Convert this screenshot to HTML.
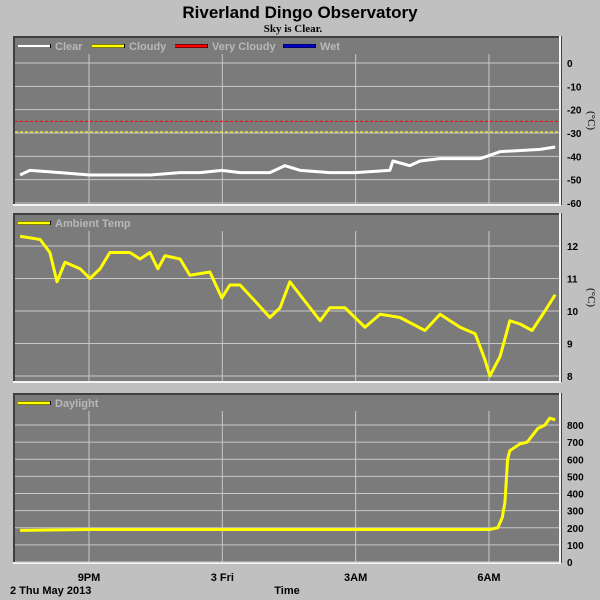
<!DOCTYPE html>
<html><head><meta charset="utf-8"><style>
body{margin:0;background:#c0c0c0;}
svg{display:block;font-family:"Liberation Sans",sans-serif;}
</style></head><body>
<svg id="c" width="600" height="600"></svg>
<script>
const xTicksH=[21,24,27,30];
const xTickLabels=["9PM","3 Fri","3AM","6AM"];
const clearT=[19.45,19.67,20.35,21.02,21.7,22.37,23.05,23.5,23.99,24.4,25.07,25.41,25.75,26.42,26.99,27.77,27.84,28.22,28.45,28.9,29.8,30.25,31.15,31.49];
const clearV=[-48,-46,-47,-48,-48,-48,-47,-47,-46,-47,-47,-44,-46,-47,-47,-46,-42,-44,-42,-41,-41,-38,-37,-36];
const ambT=[19.45,19.9,20.12,20.28,20.46,20.8,21.02,21.25,21.47,21.92,22.15,22.37,22.55,22.71,23.05,23.27,23.72,23.99,24.17,24.4,24.74,25.07,25.3,25.52,25.86,26.2,26.42,26.76,27.21,27.55,28.0,28.56,28.9,29.35,29.69,29.91,30.02,30.25,30.47,30.7,30.97,31.26,31.49];
const ambV=[12.3,12.2,11.8,10.9,11.5,11.3,11.0,11.3,11.8,11.8,11.6,11.8,11.3,11.7,11.6,11.1,11.2,10.4,10.8,10.8,10.3,9.8,10.1,10.9,10.3,9.7,10.1,10.1,9.5,9.9,9.8,9.4,9.9,9.5,9.3,8.5,8.0,8.6,9.7,9.6,9.4,10.0,10.5];
const dayT=[19.45,21.02,23.0,26.0,30.02,30.2,30.3,30.36,30.42,30.47,30.7,30.86,31.1,31.26,31.37,31.49];
const dayV=[185,190,190,190,190,200,260,350,600,650,690,700,780,800,840,830];
const sTicks=[0,-10,-20,-30,-40,-50,-60];
const aTicks=[12,11,10,9,8];
const dTicks=[800,700,600,500,400,300,200,100,0];
const NS="http://www.w3.org/2000/svg";
const svg=document.getElementById('c');
function el(t,a,p){const e=document.createElementNS(NS,t);for(const k in a)e.setAttribute(k,a[k]);(p||svg).appendChild(e);return e;}
const xS=h=>89+(h-21)*44.44;
function panel(name,top,bot,ymin,ymax,y0,y1,ticks,T,V,col,legends,thresh,unit){
  const g=el('g',{});
  el('rect',{x:13,y:top,width:549,height:bot-top,fill:'#404040'},g);
  el('rect',{x:15,y:top+2,width:545,height:bot-top-3,fill:'#7b7b7b'},g);
  el('line',{x1:560,y1:top,x2:560,y2:bot,stroke:'#f4f4f4','stroke-width':2},g);
  el('line',{x1:13,y1:bot,x2:561,y2:bot,stroke:'#f4f4f4','stroke-width':2},g);
  const yS=v=>y0+(v-ymax)*(y1-y0)/(ymin-ymax);
  ticks.forEach(v=>{const y=yS(v);
    const l=el('line',{x1:15,y1:y,x2:559,y2:y,stroke:'#c8c8c8','stroke-width':1},g);
    
    const t=el('text',{x:567,y:y+4,'font-size':10,'font-weight':'bold',fill:'#000'},g);t.textContent=v;
    });
  xTicksH.forEach(h=>{el('line',{x1:xS(h),y1:top+18,x2:xS(h),y2:bot-1,stroke:'#c8c8c8','stroke-width':1},g);});
  if(thresh)thresh.forEach(th=>el('line',{x1:15,y1:yS(th[0]),x2:559,y2:yS(th[0]),stroke:th[1],'stroke-dasharray':'3,2'},g));
  const p=el('polyline',{points:T.map((h,i)=>xS(h)+','+yS(V[i])).join(' '),fill:'none',stroke:col,'stroke-width':3,'stroke-linejoin':'round'},g);
  
  let lx=18;
  legends.forEach(L=>{
    const lg=el('g',{},g);
    el('line',{x1:lx,y1:top+10,x2:lx+33,y2:top+10,stroke:'#000','stroke-width':4},lg);
    el('line',{x1:lx,y1:top+10,x2:lx+32,y2:top+10,stroke:L[1],'stroke-width':3},lg);
    const t=el('text',{x:lx+37,y:top+14,'font-size':11,'font-weight':'bold',fill:'#b8b8b8'},lg);t.textContent=L[0];
    lx+=L[2];});
  if(unit){const u=el('text',{x:0,y:0,'font-size':11,'font-family':'Liberation Serif',transform:`translate(588,${(top+bot)/2}) rotate(90)`,'text-anchor':'middle'},g);u.textContent='(°C)';
    }
}
const tt=el('text',{x:300,y:18,'font-size':17,'font-weight':'bold','text-anchor':'middle'});tt.textContent='Riverland Dingo Observatory';

const st=el('text',{x:293,y:32,'font-size':11,'font-weight':'bold','font-family':'Liberation Serif','text-anchor':'middle'});st.textContent='Sky is Clear.';

panel('sky-temp-panel',36,205,-60,0,63,203,sTicks,clearT,clearV,'#fff',[['Clear','#fff',74],['Cloudy','#ff0',83],['Very Cloudy','#f00',108],['Wet','#00c',60]],[[-25,'#f00'],[-29.5,'#ff0']],true);
panel('ambient-temp-panel',213,382,8,12,246,376,aTicks,ambT,ambV,'#ff0',[['Ambient Temp','#ff0',100]],null,true);
panel('daylight-panel',393,563,0,800,425,562,dTicks,dayT,dayV,'#ff0',[['Daylight','#ff0',100]],null,false);
xTicksH.forEach((h,i)=>{const t=el('text',{x:xS(h),y:581,'font-size':11,'font-weight':'bold','text-anchor':'middle'});t.textContent=xTickLabels[i];
  });
const d=el('text',{x:10,y:594,'font-size':11,'font-weight':'bold'});d.textContent='2 Thu May 2013';

const xt=el('text',{x:287,y:594,'font-size':11,'font-weight':'bold','text-anchor':'middle'});xt.textContent='Time';

</script>
</body></html>
